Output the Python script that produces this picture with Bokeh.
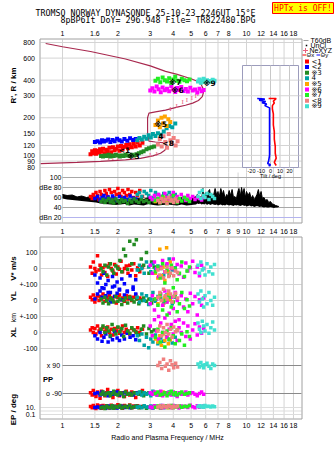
import math
from bokeh.plotting import figure
from bokeh.models import Range1d, LogScale, LinearScale, ColumnDataSource
from bokeh.core.properties import value
from bokeh.embed import file_html
from bokeh.resources import INLINE

# ---------------- texts / ticks ----------------
title_line1 = "TROMSO NORWAY   DYNASONDE 25-10-23 2246UT 15°E"
title_line2 = "8pBP6It DoY= 296.948 File= TR822480.BPG"
warn_text = "HPTx is OFF!"
freq_ticks_top = [1, 1.5, 2, 3, 4, 5, 6, 7, 8, 10, 12, 14, 16, 18]
freq_labels_top = ["1", "1.6", "2", "3", "4", "5", "6", "7", "8", "10", "12", "14", "16", "18"]
freq_ticks_mid = [1, 1.5, 2, 3, 4, 5, 6, 7, 8, 9, 10, 12, 14, 16, 18]
freq_labels_mid = ["1", "1.5", "2", "3", "4", "5", "6", "7", "8", "9", "10", "12", "14", "16", "18"]
freq_ticks_bot = [1, 1.5, 2, 3, 4, 5, 6, 7, 8, 10, 12, 14, 16, 18]
freq_labels_bot = ["1", "1.5", "2", "3", "4", "5", "6", "7", "8", "10", "12", "14", "16", "18"]
range_ticks = [80, 90, 100, 120, 150, 200, 300, 400, 600, 800]
dbe_ticks = [100, 80, 60, 40, 20]
dbe_labels = ["100", "dBe 80", "60", "40", "dBn 20"]
tilt_ticks = [-20, -10, 0, 10, 20]
v_ticks = [100, 0, -100]
v_labels = ["100", "0", "+-100"]
yl_ticks = [0, -100]
yl_labels = ["0", "+-100"]
xl_ticks = [0, -100]
xl_labels = ["0", "-100"]
pp_ticks = [90, -90]
pp_labels = ["x  90", "o -90"]
ep_ticks = [10, 0.1]
ep_labels = ["10.", "0.1"]
x_title = "Radio and Plasma Frequency / MHz"

# ---------------- model profile & NeXYZ ----------------
model_f = [0.76, 1.2, 1.61, 2.2, 2.65, 3.1, 3.41, 3.6, 3.68, 3.6, 3.2, 2.95, 2.9, 2.9, 2.95, 3.2, 3.63, 4.2, 4.66, 5.1,
           5.48, 5.75, 5.84, 5.8, 5.6, 5.0, 4.2, 3.63, 3.0, 2.2, 1.42, 1.0, 0.81]
model_h = [86, 88, 89.5, 92, 94.5, 99, 104, 110, 118, 126, 128, 130, 150, 200, 218, 223, 230, 243, 252, 262,
           275, 295, 320, 345, 383, 410, 445, 470, 520, 590, 678, 740, 785]
ne_f = [1.78, 1.88, 2.0, 2.45, 3.0, 3.25, 3.86, 4.17, 4.5, 4.75, 5.05, 5.3, 5.45]
ne_h = [95, 95, 96, 97, 101, 103, 233, 250, 265, 276, 288, 298, 308]

# ---------------- tilt profiles ----------------
tiltx_h = [285, 285, 280, 272, 262, 250, 235, 215, 195, 175, 155, 135, 118, 104, 95, 88, 83]
tiltx_deg = [-2, 6, 5, 3, 4, 2, 2, 3, 3, 3, 4, 4, 5, 5, 6, 4, 6]
tilty_h = [285, 282, 276, 270, 264, 258, 250, 240, 220, 195, 170, 145, 120, 100, 90, 86, 84, 82]
tilty_deg = [-14, -6, -12, -5, -9, -4, -6, -1, -1, -1, -1, -1, -1, -1, -2, -3, 0, -2]

# ---------------- noise (dB) ----------------
noise_f = [1.0, 1.06, 1.13, 1.2, 1.27, 1.35, 1.43, 1.52, 1.61, 1.71, 1.82, 1.93, 2.05, 2.18, 2.31, 2.45, 2.6, 2.76,
           2.93, 3.11, 3.3, 3.5, 3.72, 3.95, 4.19, 4.45, 4.72, 5.01, 5.32,
           5.4, 5.5, 5.6, 5.7, 5.8, 5.9, 6.0, 6.1, 6.2, 6.3, 6.4, 6.5, 6.6, 6.75, 6.9, 7.0, 7.1, 7.25, 7.4, 7.5,
           7.65, 7.8, 7.9, 8.05, 8.2, 8.35, 8.5, 8.65, 8.8, 8.95, 9.1, 9.25, 9.4, 9.55, 9.7, 9.85, 10.0, 10.2, 10.4,
           10.6, 10.8, 11.0, 11.2, 11.4, 11.6, 11.8, 12.0, 12.2, 12.45, 12.7, 12.95, 13.2, 13.5, 13.8, 14.1, 14.4,
           14.7, 15.0]
noise_hi = [66, 64, 65, 61, 63, 60, 62, 60, 58, 56, 57, 55, 56, 58, 55, 57, 58, 56, 60, 57, 54, 56, 60, 62, 58, 60,
            55, 58, 62,
            66, 58, 62, 56, 78, 60, 70, 58, 72, 76, 60, 66, 62, 78, 64, 72, 60, 78, 66, 74,
            58, 66, 62, 74, 64, 76, 60, 62, 56, 70, 78, 62, 80, 66, 78, 60, 72, 64, 70, 58,
            64, 56, 60, 66, 76, 62, 72, 58, 60, 54, 56, 50, 52, 47, 46, 44, 43, 42]
noise_lo = [58, 56, 55, 54, 53, 52, 51, 50, 48, 47, 46, 45, 46, 47, 44, 46, 45, 44, 47, 45, 44, 45, 46, 45, 44, 46,
            44, 45, 46,
            48, 47, 48, 46, 47, 46, 48, 45, 47, 46, 45, 47, 46, 45, 46, 44, 45, 46, 44, 45,
            44, 46, 45, 44, 45, 44, 43, 45, 44, 45, 44, 43, 44, 45, 43, 44, 42, 43, 44, 42,
            43, 41, 42, 43, 42, 41, 42, 41, 40, 41, 40, 40, 41, 40, 39, 40, 40, 41]

# ---------------- echo modes ----------------
mode_names = ["<1", "<2", "※3", " 4", "※5", "※6", "※7", "<8", "※9"]
mode_colors = ["#FF0000", "#0000FF", "#228B22", "#00A3A3", "#FFA500", "#FF00FF", "#22EE22", "#F08080", "#40E0D0"]

m1_f = [1.42, 1.45, 1.47, 1.5, 1.52, 1.55, 1.58, 1.6, 1.63, 1.66, 1.7, 1.73, 1.76, 1.8, 1.84, 1.88, 1.92, 1.96, 2.0,
        2.04, 2.08, 2.12, 2.17, 2.22, 2.27, 2.32, 2.38, 2.44, 2.5, 2.56, 2.63, 2.72]
m1_r = [102, 108, 104, 110, 103, 109, 105, 112, 107, 113, 104, 111, 108, 115, 106, 116, 110, 113, 118, 109, 119, 112,
        117, 121, 114, 123, 116, 124, 118, 127, 120, 126]
m1_a = [62, 58, 66, 60, 70, 64, 56, 72, 66, 60, 74, 68, 62, 76, 70, 58, 72, 66, 78, 68, 62, 74, 70, 64, 76, 66, 72, 60,
        70, 64, 74, 62]
m1_v = [10, -30, 40, 0, -20, 80, -10, 20, -40, 5, -25, 15, -50, 30, 0, -15, 25, -35, 10, -5, 45, -20, 0, 15, -30, 20,
        -10, 30, -45, 5, -20, 10]
m1_yl = [20, 5, 35, -10, 15, 30, 0, 25, 10, 40, -5, 20, 10, 30, 15, 0, 25, -15, 20, 35, 5, 15, -5, 30, 10, 25, 0, 20,
         35, 10, 15, 5]
m1_xl = [15, 30, 0, 25, -10, 40, 10, 20, -20, 30, 5, 15, 35, 0, 20, -15, 25, 10, 30, -5, 15, 40, 0, 20, 10, -10, 25,
         15, 5, 30, 0, 20]
m1_pp = [-85, -100, -70, -95, -110, -80, -90, -120, -75, -95, -105, -85, -65, -100, -90, -115, -80, -95, -70, -105,
         -90, -85, -110, -75, -95, -100, -80, -90, -115, -85, -95, -70]
m1_ep = [20, 8, 35, 12, 5, 50, 15, 25, 6, 40, 10, 30, 18, 7, 45, 12, 22, 9, 60, 15, 28, 6, 35, 11, 20, 50, 8, 25, 14,
         30, 10, 18]

m2_f = [1.5, 1.55, 1.6, 1.64, 1.68, 1.72, 1.77, 1.82, 1.87, 1.92, 1.98, 2.04, 2.1, 2.17, 2.25, 2.33, 2.42, 2.5]
m2_r = [128, 130, 127, 132, 129, 131, 134, 128, 133, 130, 136, 132, 129, 135, 131, 137, 133, 135]
m2_a = [58, 62, 55, 60, 64, 57, 61, 56, 63, 59, 54, 62, 58, 60, 56, 63, 59, 57]
m2_v = [-40, -90, -60, -120, -30, -100, -75, -150, -50, -110, -85, -130, -65, -95, -140, -45, -115, -70]
m2_yl = [10, 40, 60, 20, 75, 30, 50, -10, 85, 25, 45, 65, 5, 35, 55, 15, 70, 40]
m2_xl = [-20, -40, 0, -55, -30, -10, -60, -25, -45, 5, -35, -50, -15, -40, -5, -30, -20, -45]
m2_pp = [-90, -85, -100, -80, -95, -90, -105, -85, -95, -90, -80, -100, -90, -85, -95, -90, -100, -85]
m2_ep = [10, 15, 8, 20, 12, 6, 25, 9, 14, 18, 7, 11, 22, 10, 16, 8, 13, 20]

m3_f = [1.62, 1.66, 1.7, 1.74, 1.78, 1.82, 1.86, 1.9, 1.95, 2.0, 2.05, 2.1, 2.15, 2.2, 2.26, 2.32, 2.38, 2.45, 2.52,
        2.6, 2.68, 2.76, 2.86, 2.95, 3.05, 3.15]
m3_r = [99, 98, 100, 99, 101, 98, 100, 99, 101, 100, 98, 100, 99, 101, 100, 99, 101, 100, 102, 104, 106, 108, 112, 114,
        116, 118]
m3_a = [52, 56, 50, 54, 58, 51, 55, 49, 57, 53, 50, 56, 52, 54, 48, 55, 51, 57, 53, 50, 56, 52, 54, 50, 55, 52]
m3_v = [0, -20, 20, -40, 10, 30, -10, -30, 15, 0, 50, -20, 120, 80, -5, 170, 30, 150, 180, -10, 60, 20, 100, -30, 40, 10]
m3_yl = [10, -15, 20, 0, -20, 15, 5, -10, 25, -5, 10, -25, 0, 15, -15, 20, 5, -10, 10, -20, 0, 15, -5, 10, -15, 5]
m3_xl = [20, 40, 0, 30, 10, -20, 50, 15, -10, 35, 5, 25, -25, 45, 10, -5, 30, 15, 0, -15, 20, 40, -10, 25, 5, 15]
m3_pp = [-95, -80, -100, -90, -85, -105, -90, -75, -95, -100, -85, -90, -110, -80, -95, -90, -100, -85, -90, -95, -80,
         -105, -90, -85, -95, -90]
m3_ep = [8, 15, 5, 25, 12, 9, 30, 6, 18, 11, 40, 7, 14, 22, 10, 35, 9, 16, 28, 8, 12, 20, 6, 15, 10, 18]

m4_f = [2.55, 2.62, 2.7, 2.78, 2.86, 2.94, 3.02, 3.1, 3.2, 3.3, 3.42, 3.55, 3.68, 3.8, 3.95, 4.1]
m4_r = [132, 138, 134, 141, 136, 145, 139, 148, 143, 150, 146, 155, 165, 172, 168, 180]
m4_a = [66, 70, 62, 72, 68, 64, 74, 60, 70, 66, 62, 68, 64, 70, 60, 66]
m4_v = [-10, 20, 0, -30, 40, 10, -20, 30, -5, 15, 0, -40, 20, 60, -10, 5]
m4_yl = [20, -10, 40, 0, 30, -25, 10, 50, -5, 25, 15, -15, 35, 5, -20, 20]
m4_xl = [-20, -50, -10, -80, -30, -95, -40, -60, -15, -70, -35, -55, -25, -45, -65, -30]
m4_pp = [-90, -80, -100, -85, -95, -90, -105, -75, -90, -100, -85, -95, -90, -80, -95, -100]
m4_ep = [12, 20, 8, 30, 15, 10, 25, 6, 18, 14, 40, 9, 22, 11, 16, 28]

m5_f = [3.2, 3.3, 3.38, 3.45, 3.52, 3.6, 3.68, 3.76, 3.85]
m5_r = [175, 190, 168, 200, 180, 205, 172, 195, 185]
m5_a = [52, 56, 50, 58, 54, 60, 51, 55, 57]
m5_v = [-30, -60, 120, -45, 10, -75, 130, -20, 40]
m5_yl = [10, -20, 30, 0, -30, 20, -10, 40, 5]
m5_xl = [-40, -60, -20, -80, -10, -50, -30, -70, -45]
m5_pp = [-90, -95, -85, -100, -80, -90, -95, -85, -90]
m5_ep = [15, 10, 25, 8, 20, 12, 30, 9, 18]

m6_f = [3.0, 3.08, 3.16, 3.25, 3.33, 3.42, 3.5, 3.6, 3.7, 3.8, 3.9, 4.0, 4.1, 4.2, 4.3, 4.42, 4.55, 4.68, 4.8, 4.95,
        5.1, 5.25, 5.4, 5.55, 5.7, 5.85]
m6_r = [330, 345, 325, 355, 338, 320, 350, 332, 342, 326, 358, 336, 322, 346, 334, 352, 328, 340, 324, 348, 330, 336,
        318, 342, 326, 334]
m6_a = [60, 56, 64, 58, 66, 62, 55, 68, 60, 57, 64, 70, 58, 62, 56, 66, 60, 54, 64, 58, 62, 56, 60, 58, 55, 60]
m6_v = [20, -30, 40, 0, -50, 10, 50, -20, 30, -40, 0, 60, -10, 25, -35, 15, -55, 35, -15, 5, 45, -25, 10, -45, 20, 0]
m6_yl = [-20, 30, -60, 10, -100, 40, -30, 60, -10, -80, 20, -50, 50, 0, -120, 30, -40, 10, -70, 45, -20, 25, -90, 5,
         -30, 15]
m6_xl = [40, -20, 80, 10, -40, 60, 0, 90, -30, 20, 50, -10, 70, -50, 30, 0, 60, -25, 40, -40, 15, 55, -15, 35, -5, 25]
m6_pp = [-85, -95, -80, -100, -90, -75, -105, -90, -85, -95, -100, -80, -90, -110, -85, -95, -90, -80, -100, -90, -85,
         -95, -105, -90, -80, -95]
m6_ep = [15, 8, 30, 12, 20, 6, 40, 10, 25, 15, 9, 35, 12, 18, 7, 28, 14, 22, 10, 45, 16, 9, 30, 12, 20, 25]

m7_f = [3.2, 3.3, 3.4, 3.5, 3.6, 3.7, 3.8, 3.9, 4.0, 4.1, 4.2, 4.32, 4.45, 4.6, 4.75, 4.9]
m7_r = [395, 410, 385, 420, 400, 390, 415, 380, 405, 425, 395, 388, 410, 400, 392, 405]
m7_a = [54, 58, 50, 62, 56, 48, 60, 52, 64, 55, 50, 58, 53, 60, 56, 52]
m7_v = [-20, 10, -60, 30, -90, -10, -40, 20, -120, 0, -70, -30, 40, -50, -15, 10]
m7_yl = [10, -30, 40, -60, 0, -90, 20, -40, -10, 30, -70, -20, 50, -50, 5, -35]
m7_xl = [-30, 20, -60, 0, -90, 10, -40, 30, -20, -70, 15, -50, -10, -80, 5, -25]
m7_pp = [-90, -80, -100, -95, -85, -105, -90, -75, -95, -85, -100, -90, -80, -95, -90, -85]
m7_ep = [12, 25, 8, 18, 30, 10, 15, 40, 9, 20, 14, 28, 11, 22, 16, 35]

m8_f = [3.3, 3.38, 3.46, 3.54, 3.62, 3.7, 3.78, 3.86, 3.94, 4.02, 4.12, 4.22]
m8_r = [122, 135, 118, 142, 128, 115, 148, 132, 125, 138, 120, 130]
m8_a = [54, 50, 58, 52, 56, 48, 60, 53, 55, 50, 57, 52]
m8_v = [-10, -40, 0, -60, -20, 10, -50, -30, 5, -45, -15, -25]
m8_yl = [20, 50, 0, 70, 30, 10, 60, 40, -10, 25, 45, 15]
m8_xl = [10, 40, -20, 30, 0, 50, -10, 20, -30, 35, 5, 15]
m8_pp = [90, 110, 70, 130, 85, 100, 60, 120, 95, 75, 105, 80]
m8_ep = [15, 25, 10, 30, 20, 12, 35, 18, 8, 22, 14, 28]

m9_f = [5.45, 5.55, 5.65, 5.75, 5.85, 5.95, 6.1, 6.25, 6.4, 6.55, 6.7]
m9_r = [390, 405, 382, 398, 410, 386, 400, 394, 388, 402, 396]
m9_a = [62, 70, 58, 74, 64, 60, 68, 56, 66, 62, 58]
m9_v = [20, -30, 40, -10, 0, -40, 30, -20, 10, -35, 25]
m9_yl = [40, -10, 60, 10, -40, 30, -20, 50, 0, -30, 20]
m9_xl = [60, 20, 0, 70, 40, 10, 50, -5, 30, 65, 15]
m9_pp = [100, 80, 110, 90, 75, 95, 105, 85, 70, 100, 90]
m9_ep = [20, 30, 15, 25, 12, 35, 18, 22, 14, 28, 16]

mode_lab_txt = ["<1", "※3", "4", "※5", "<8", "※6", "※7", "※9"]
mode_lab_f = [2.17, 2.43, 3.42, 3.42, 3.75, 4.22, 4.1, 6.3]
mode_lab_h = [110, 98, 144, 176, 124, 330, 384, 378]

modes = [
    (m1_f, m1_r, m1_a, m1_v, m1_yl, m1_xl, m1_pp, m1_ep),
    (m2_f, m2_r, m2_a, m2_v, m2_yl, m2_xl, m2_pp, m2_ep),
    (m3_f, m3_r, m3_a, m3_v, m3_yl, m3_xl, m3_pp, m3_ep),
    (m4_f, m4_r, m4_a, m4_v, m4_yl, m4_xl, m4_pp, m4_ep),
    (m5_f, m5_r, m5_a, m5_v, m5_yl, m5_xl, m5_pp, m5_ep),
    (m6_f, m6_r, m6_a, m6_v, m6_yl, m6_xl, m6_pp, m6_ep),
    (m7_f, m7_r, m7_a, m7_v, m7_yl, m7_xl, m7_pp, m7_ep),
    (m8_f, m8_r, m8_a, m8_v, m8_yl, m8_xl, m8_pp, m8_ep),
    (m9_f, m9_r, m9_a, m9_v, m9_yl, m9_xl, m9_pp, m9_ep),
]

# ---------------- layout geometry (pixels) ----------------
W, H = 335, 451
FX0, FX1 = 40, 301          # frame left / right
TOP0, SPLIT, TOP1 = 39, 172, 222
BOT0, BOT1 = 237, 418
SANS = "Liberation Sans"
MONO = "DejaVu Sans Mono"
GRID = "#D4D4D4"
FRAME = "#A0A0A0"
MODEL = "#A8284E"
NECOL = "#E8607E"


def f_at(px):
    return 10 ** ((px - 62.0) / 184.0)


def h_at(py):
    return 800.0 * 10 ** (-(py - 42.0) / 125.0)


def tilt_at(px):
    return (px - 270.0) / 0.95


def lin(a_val, a_py, b_val, b_py):
    k = (a_val - b_val) / (b_py - a_py)
    return lambda py: a_val + (a_py - py) * k


db_val = lin(100, 177, 20, 217)
v_val = lin(100, 252, 0, 268)
yl_val = lin(100, 284, 0, 300)
xl_val = lin(100, 316, 0, 332)
pp_val = lin(90, 365, -90, 393)
ep_lv = lin(1, 407, -1, 414)

p = figure(width=W, height=H, x_range=Range1d(f_at(0), f_at(W)), y_range=Range1d(H, 0),
           x_axis_type=None, y_axis_type=None, title=None, min_border=0,
           toolbar_location=None, output_backend="svg")
p.x_scale = LogScale()
p.outline_line_color = None
p.background_fill_color = "white"
p.border_fill_color = "white"
p.extra_x_ranges = {"px": Range1d(0, W), "tilt": Range1d(tilt_at(0), tilt_at(W))}
p.extra_x_scales = {"px": LinearScale(), "tilt": LinearScale()}
p.extra_y_ranges = {
    "h": Range1d(h_at(H), h_at(0)),
    "db": Range1d(db_val(H), db_val(0)),
    "v": Range1d(v_val(H), v_val(0)),
    "yl": Range1d(yl_val(H), yl_val(0)),
    "xl": Range1d(xl_val(H), xl_val(0)),
    "pp": Range1d(pp_val(H), pp_val(0)),
    "ep": Range1d(10 ** ep_lv(H), 10 ** ep_lv(0)),
}
p.extra_y_scales = {"h": LogScale(), "ep": LogScale()}


def txt(x, y, text, size="7px", align="center", color="black", bold=False, font=SANS, angle=0.0,
        x_range_name="default", y_range_name="default"):
    p.text(x=list(x), y=list(y), text=list(text), angle=angle, text_font=value(font), text_font_size=size,
           text_font_style="bold" if bold else "normal", text_align=align, text_baseline="middle",
           text_color=color, x_range_name=x_range_name, y_range_name=y_range_name)


def vgrid(freqs, y0, y1, color=GRID):
    n = len(freqs)
    p.segment(x0=freqs, x1=freqs, y0=[y0] * n, y1=[y1] * n, line_color=color, line_width=1)


def hgrid(vals, yname, x0=FX0, x1=FX1, color=GRID, width=1.0):
    n = len(vals)
    p.segment(x0=[x0] * n, x1=[x1] * n, y0=vals, y1=vals, x_range_name="px", y_range_name=yname,
              line_color=color, line_width=width)


# ---------------- grids ----------------
vgrid(freq_ticks_top, TOP0, SPLIT)
vgrid(freq_ticks_mid, SPLIT, TOP1)
vgrid(freq_ticks_bot, BOT0, BOT1)
hgrid(range_ticks, "h")
hgrid([100, 80, 60, 40], "db", x0=62, color="#A8A8A8")
hgrid([20], "db", x0=62, color="#B4B4EE", width=1.2)
hgrid([100, 0, -100, -200, -300, -400, -500], "v")
hgrid([10, 1, 0.1], "ep", color="#DDDDDD")
hgrid([90, -90], "pp", x0=62, color="#8A8A8A", width=1.2)

# ---------------- tilt inset ----------------
ix0, ix1 = tilt_at(242), tilt_at(298)
iy0, iy1 = h_at(167), h_at(65)
p.quad(left=[ix0], right=[ix1], bottom=[iy0], top=[iy1], x_range_name="tilt", y_range_name="h",
       fill_color="white", line_color="#9C9CBC")
p.segment(x0=tilt_ticks, x1=tilt_ticks, y0=[iy0] * len(tilt_ticks), y1=[iy1] * len(tilt_ticks),
          x_range_name="tilt", y_range_name="h", line_color="#C8C8C8")
inner = [t for t in range_ticks if iy0 * 1.01 < t < iy1]
p.segment(x0=[ix0] * len(inner), x1=[ix1] * len(inner), y0=inner, y1=inner, x_range_name="tilt",
          y_range_name="h", line_color=GRID)
p.line(tiltx_deg, tiltx_h, x_range_name="tilt", y_range_name="h", line_color="#FF0000", line_width=1.6)
p.line(tilty_deg, tilty_h, x_range_name="tilt", y_range_name="h", line_color="#0000FF", line_width=1.6)
txt(tilt_ticks, [170.5] * len(tilt_ticks), [str(t) for t in tilt_ticks], size="5.5px", x_range_name="tilt")
txt([0], [175], ["Tilt / deg"], size="5.5px", x_range_name="tilt")

# ---------------- profile, NeXYZ, noise ----------------
p.line(model_f, model_h, y_range_name="h", line_color=MODEL, line_width=1.2)
txt(ne_f, ne_h, ["I"] * len(ne_f), size="7px", color=NECOL, font="Liberation Serif", y_range_name="h")
p.varea(x=noise_f, y1=noise_lo, y2=noise_hi, y_range_name="db", fill_color="black")
p.line(noise_f, noise_hi, y_range_name="db", line_color="black", line_width=1)

# ---------------- echoes ----------------
for m, c in zip(modes, mode_colors):
    kw = dict(marker="square", fill_color=c, line_color=None)
    p.scatter(m[0], m[1], size=4, y_range_name="h", **kw)
    p.scatter(m[0], m[2], size=3.5, y_range_name="db", **kw)
    p.scatter(m[0], m[3], size=3.5, y_range_name="v", **kw)
    p.scatter(m[0], m[4], size=3.5, y_range_name="yl", **kw)
    p.scatter(m[0], m[5], size=3.5, y_range_name="xl", **kw)
    p.scatter(m[0], m[6], size=3.5, y_range_name="pp", **kw)
    p.scatter(m[0], m[7], size=3.5, y_range_name="ep", **kw)
txt(mode_lab_f, mode_lab_h, mode_lab_txt, size="7.5px", bold=True, font="DejaVu Sans", y_range_name="h")

# ---------------- frames ----------------
p.quad(left=[FX0 - 0.5, FX0 - 0.5], right=[FX1 + 0.5, FX1 + 0.5], top=[TOP0 - 0.5, BOT0 - 0.5],
       bottom=[TOP1 + 0.5, BOT1 + 0.5], x_range_name="px", fill_color=None, line_color=FRAME)

# ---------------- tick labels ----------------
txt(freq_ticks_top, [33] * len(freq_ticks_top), freq_labels_top)
txt(freq_ticks_mid, [230.5] * len(freq_ticks_mid), freq_labels_mid)
txt(freq_ticks_bot, [425] * len(freq_ticks_bot), freq_labels_bot)
txt([167], [437], [x_title], x_range_name="px")
txt([34.5] * len(range_ticks), range_ticks, [str(t) for t in range_ticks], align="right",
    x_range_name="px", y_range_name="h")
txt([61] * len(dbe_ticks), dbe_ticks, dbe_labels, align="right", x_range_name="px", y_range_name="db")
txt([37] * 3, v_ticks, v_labels, align="right", x_range_name="px", y_range_name="v")
txt([37] * 2, yl_ticks, yl_labels, align="right", x_range_name="px", y_range_name="yl")
txt([37] * 2, xl_ticks, xl_labels, align="right", x_range_name="px", y_range_name="xl")
txt([61.5] * 2, pp_ticks, pp_labels, align="right", x_range_name="px", y_range_name="pp")
txt([35] * 2, ep_ticks, ep_labels, align="right", x_range_name="px", y_range_name="ep")
txt([42.5], [379], ["PP"], size="7.5px", bold=True, align="left", x_range_name="px")

# rotated axis titles
rot = math.pi / 2
txt([13], [85], ["R', R / km"], size="8px", bold=True, angle=rot, x_range_name="px")
txt([13], [268], ["V* m/s"], size="8px", bold=True, angle=rot, x_range_name="px")
txt([13], [296], ["YL"], size="8px", bold=True, angle=rot, x_range_name="px")
txt([13], [317], ["km"], size="7px", angle=rot, x_range_name="px")
txt([13], [332], ["XL"], size="8px", bold=True, angle=rot, x_range_name="px")
txt([13], [409], ["EP / deg"], size="8px", bold=True, angle=rot, x_range_name="px")

# ---------------- header ----------------
txt([150], [12.3], [title_line1], size="8.3px", font=MONO, x_range_name="px")
txt([157.5], [19.8], [title_line2], size="8.3px", font=MONO, x_range_name="px")
p.quad(left=[272], right=[333], top=[2], bottom=[13], x_range_name="px", fill_color="#FFFF00",
       line_color="#FF0000")
txt([302.5], [7.6], [warn_text], size="8px", font=MONO, color="#FF0000", x_range_name="px")

# ---------------- legend (right margin) ----------------
p.segment(x0=[303], x1=[308], y0=[40], y1=[40], x_range_name="px", line_color="#A0A0A0", line_width=1.2)
txt([310], [40], ["T60dB"], align="left", x_range_name="px")
p.scatter([306], [45], x_range_name="px", marker="square", size=1.5, fill_color="black", line_color=None)
txt([310], [45], ["UnCl"], align="left", x_range_name="px")
p.scatter([305], [50], x_range_name="px", marker="cross", size=5, line_color=NECOL, line_width=1)
txt([309], [50], ["NeXYZ"], align="left", x_range_name="px")
p.segment(x0=[302], x1=[305.5], y0=[54.5], y1=[54.5], x_range_name="px", line_color="#FF0000", line_width=1)
p.segment(x0=[316], x1=[319.5], y0=[54.5], y1=[54.5], x_range_name="px", line_color="#0000FF", line_width=1)
txt([306], [54.5], ["Θx"], size="6px", align="left", x_range_name="px")
txt([320], [54.5], ["Θy"], size="6px", align="left", x_range_name="px")
leg_rows = [61, 66.6, 72.2, 77.8, 83.4, 89.0, 94.6, 100.2, 105.8]
leg_src = ColumnDataSource(dict(x=[306.5] * len(mode_colors), y=leg_rows, c=mode_colors))
p.scatter("x", "y", source=leg_src, x_range_name="px", marker="square", size=4, fill_color="c", line_color=None)
txt([311] * len(mode_names), leg_rows, mode_names, align="left", font="DejaVu Sans", x_range_name="px")

open("out.html", "w").write(file_html(p, INLINE))
